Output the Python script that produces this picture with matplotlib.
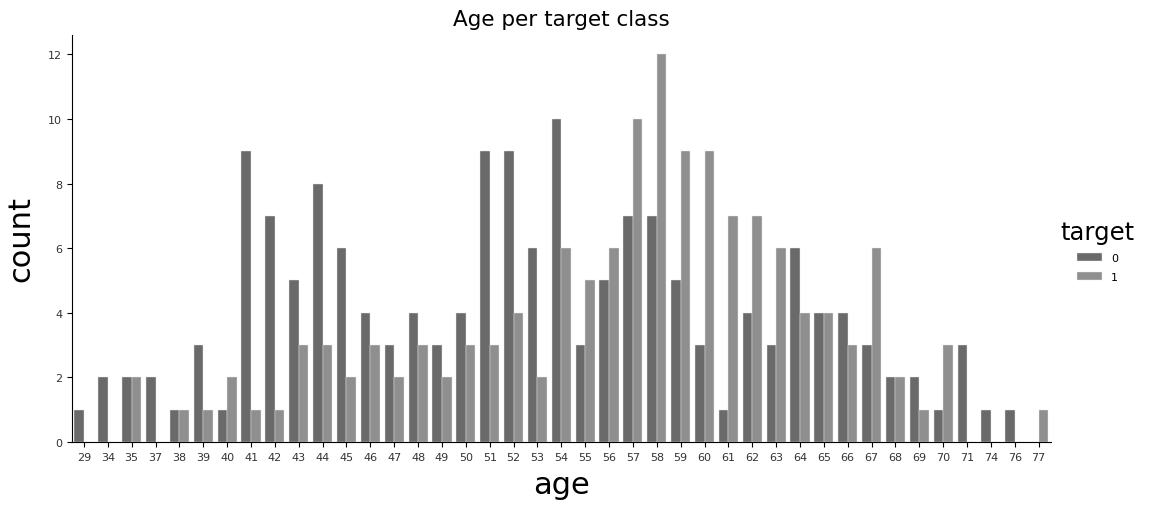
import numpy as np
import matplotlib
matplotlib.use("Agg")
import matplotlib.pyplot as plt

ages = [29, 34, 35, 37, 38, 39, 40, 41, 42, 43, 44, 45, 46, 47, 48, 49, 50,
        51, 52, 53, 54, 55, 56, 57, 58, 59, 60, 61, 62, 63, 64, 65, 66, 67,
        68, 69, 70, 71, 74, 76, 77]
target0 = [1, 2, 2, 2, 1, 3, 1, 9, 7, 5, 8, 6, 4, 3, 4, 3, 4,
           9, 9, 6, 10, 3, 5, 7, 7, 5, 3, 1, 4, 3, 6, 4, 4, 3,
           2, 2, 1, 3, 1, 1, 0]
target1 = [0, 0, 2, 0, 1, 1, 2, 1, 1, 3, 3, 2, 3, 2, 3, 2, 3,
           3, 4, 2, 6, 5, 6, 10, 12, 9, 9, 7, 7, 6, 4, 4, 3, 6,
           2, 1, 3, 0, 0, 0, 1]
colors = ["#6a6a6a", "#8f8f8f"]

fig = plt.figure(figsize=(11.54, 5.06), dpi=100)
ax = fig.add_axes([0.0624, 0.1245, 0.848, 0.8045])

x = np.arange(len(ages))
w = 0.4
ax.bar(x - w / 2, target0, width=w, color=colors[0], edgecolor="#e8e8e8",
       linewidth=0.3, label="0")
ax.bar(x + w / 2, target1, width=w, color=colors[1], edgecolor="#e8e8e8",
       linewidth=0.3, label="1")

ax.set_xlim(-0.5, len(ages) - 0.5)
ax.set_ylim(0, 12.6)
ax.set_xticks(x)
ax.set_xticklabels([str(a) for a in ages])
ax.set_yticks(range(0, 13, 2))
ax.tick_params(labelsize=8, colors="#333333")
ax.tick_params(axis="both", color="black")

for s in ["top", "right"]:
    ax.spines[s].set_visible(False)

ax.set_title("Age per target class", fontsize=15.5, pad=7)
ax.set_xlabel("age", fontsize=22, labelpad=6)
ax.set_ylabel("count", fontsize=22, labelpad=9)

leg = ax.legend(title="target", loc="center left", bbox_to_anchor=(1.0, 0.47),
                frameon=False, fontsize=8, title_fontsize=17.5,
                handlelength=2.2, handleheight=0.7, labelspacing=0.8)

fig.savefig("out.png", dpi=100)
